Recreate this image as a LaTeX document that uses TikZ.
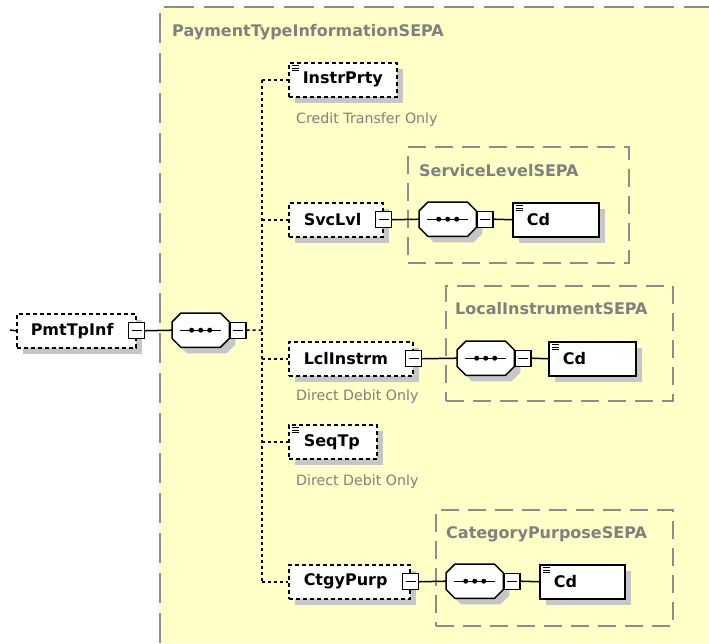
\documentclass[tikz,border=0pt]{standalone}
\usepackage{fontspec}
\setmainfont{DejaVu Sans}
\usetikzlibrary{calc,shadows}
\definecolor{bgyellow}{RGB}{255,255,200}
\definecolor{bordergray}{RGB}{140,140,140}
\definecolor{titlegray}{RGB}{128,128,128}
\definecolor{shadowc}{RGB}{198,198,198}
\newcommand\seqdraw[1]{%
  \fill[shadowc, transform canvas={shift={(6pt,-6pt)}}] ($(#1.north west)+(9,0)$) -- ($(#1.north east)+(-9,0)$) -- ($(#1.north east)+(0,9)$) -- ($(#1.south east)+(0,-9)$) -- ($(#1.south east)+(-9,0)$) -- ($(#1.south west)+(9,0)$) -- ($(#1.south west)+(0,-9)$) -- ($(#1.north west)+(0,9)$) -- cycle;
  \draw[line width=1.5pt, fill=white] ($(#1.north west)+(9,0)$) -- ($(#1.north east)+(-9,0)$) -- ($(#1.north east)+(0,9)$) -- ($(#1.south east)+(0,-9)$) -- ($(#1.south east)+(-9,0)$) -- ($(#1.south west)+(9,0)$) -- ($(#1.south west)+(0,-9)$) -- ($(#1.north west)+(0,9)$) -- cycle;
  \draw[line width=1.4pt] ($(#1.west)+(8,0)$) -- ($(#1.east)+(-8,0)$);
  \foreach \dx in {-9,0,9} \fill ($(#1.center)+(\dx,0)$) circle (2.5);
}
\newcommand\ficon[1]{\draw[line width=1pt] ($(#1.north west)+(4,3.5)$) -- ++(7,0) ($(#1.north west)+(4,6)$) -- ++(7,0) ($(#1.north west)+(4,8.5)$) -- ++(7,0);}
\begin{document}
\begin{tikzpicture}[x=1pt,y=-1pt,
  outerb/.style={draw=bordergray, line width=2pt, dash pattern=on 30pt off 10pt},
  grp/.style={draw=bordergray, line width=1.6pt, dash pattern=on 18pt off 9pt, anchor=north west, inner sep=0pt},
  gtitle/.style={font=\fontsize{16}{19}\selectfont\bfseries, text=titlegray, anchor=base west, inner sep=0pt},
  captext/.style={font=\fontsize{14.2}{17}\selectfont, text=titlegray, anchor=base west, inner sep=0pt},
  ebox/.style={draw=black, line width=1.5pt, dash pattern=on 4pt off 3pt, fill=white,
    minimum width=#1pt, text width=#1pt, minimum height=34pt, inner sep=0pt, anchor=north west, align=left,
    font=\fontsize{16}{19}\selectfont\bfseries,
    drop shadow={shadow xshift=6pt, shadow yshift=-6pt, fill=shadowc, opacity=1, draw=none}},
  cdbox/.style={ebox=#1, solid},
  seqn/.style={draw=none, minimum width=57pt, minimum height=34pt, inner sep=0pt, anchor=north west},
  mbox/.style={draw=black, fill=white, line width=1.3pt, minimum size=16pt, inner sep=0pt,
    path picture={\draw[line width=1.3pt] ([xshift=3pt]path picture bounding box.west) -- ([xshift=-3pt]path picture bounding box.east);}},
  dconn/.style={draw=black, line width=1.5pt, dash pattern=on 3pt off 3pt},
  sconn/.style={draw=black, line width=1.5pt}
]
\useasboundingbox (0,0) rectangle (709,643);
\fill[white] (0,0) rectangle (709,643);
\fill[bgyellow] (160,7) rectangle (709,643);
\draw[outerb] (160,643) -- (160,7) -- (709,7);
\node[gtitle] (t0) at (172,36) {PaymentTypeInformationSEPA};

% groups
\node[grp, minimum width=221pt, minimum height=116pt] (g1) at (407,146) {};
\node[gtitle] (t1) at (419,176) {ServiceLevelSEPA};
\node[grp, minimum width=227pt, minimum height=115pt] (g2) at (445,285) {};
\node[gtitle] (t2) at (455,314) {LocalInstrumentSEPA};
\node[grp, minimum width=237pt, minimum height=116pt] (g3) at (435,509) {};
\node[gtitle] (t3) at (446,538) {CategoryPurposeSEPA};

% root
\coordinate (pin) at (10,330);
\node[ebox=119] (pmt) at (16,313) {\hspace*{14pt}PmtTpInf};
\node[mbox] (pmtm) at (pmt.east) {};
\node[seqn] (s0) at (172,313) {};
\seqdraw{s0}
\node[mbox, anchor=west] (s0m) at (s0.east) {};
\coordinate (bus) at (262,330);

% InstrPrty
\node[ebox=108] (instr) at (288,62) {\hspace*{14pt}InstrPrty};
\ficon{instr}
\node[captext] (c1) at (296,123) {Credit Transfer Only};

% SvcLvl
\node[ebox=94] (svc) at (288,202) {\hspace*{15pt}SvcLvl};
\node[mbox] (svcm) at (svc.east) {};
\node[seqn] (s1) at (419,202) {};
\seqdraw{s1}
\node[mbox, anchor=west] (s1m) at (s1.east) {};
\node[cdbox=86] (cd1) at (512,202) {\hspace*{14pt}Cd};
\ficon{cd1}

% LclInstrm
\node[ebox=124] (lcl) at (288,341) {\hspace*{15pt}LclInstrm};
\node[mbox] (lclm) at (lcl.east) {};
\node[captext] (c2) at (296,400) {Direct Debit Only};
\node[seqn] (s2) at (457,341) {};
\seqdraw{s2}
\node[mbox, anchor=west] (s2m) at (s2.east) {};
\node[cdbox=87] (cd2) at (548,341) {\hspace*{14pt}Cd};
\ficon{cd2}

% SeqTp
\node[ebox=88] (seqtp) at (288,424) {\hspace*{15pt}SeqTp};
\ficon{seqtp}
\node[captext] (c3) at (296,485) {Direct Debit Only};

% CtgyPurp
\node[ebox=121] (ctgy) at (288,564) {\hspace*{15pt}CtgyPurp};
\node[mbox] (ctgym) at (ctgy.east) {};
\node[seqn] (s3) at (446,564) {};
\seqdraw{s3}
\node[mbox, anchor=west] (s3m) at (s3.east) {};
\node[cdbox=85] (cd3) at (539,564) {\hspace*{14pt}Cd};
\ficon{cd3}

% connectors
\draw[sconn] (pin) -- (pmt.west);
\draw[sconn] (pmtm.east) -- (s0.west);
\draw[dconn] (s0m.east) -- (bus);
\draw[dconn] (instr.west -| bus) -- (ctgy.west -| bus);
\draw[dconn] (instr.west -| bus) -- (instr.west);
\draw[dconn] (svc.west -| bus) -- (svc.west);
\draw[dconn] (lcl.west -| bus) -- (lcl.west);
\draw[dconn] (seqtp.west -| bus) -- (seqtp.west);
\draw[dconn] (ctgy.west -| bus) -- (ctgy.west);
\draw[sconn] (svcm.east) -- (s1.west);
\draw[sconn] (s1m.east) -- (cd1.west);
\draw[sconn] (lclm.east) -- (s2.west);
\draw[sconn] (s2m.east) -- (cd2.west);
\draw[sconn] (ctgym.east) -- (s3.west);
\draw[sconn] (s3m.east) -- (cd3.west);
\end{tikzpicture}
\end{document}
